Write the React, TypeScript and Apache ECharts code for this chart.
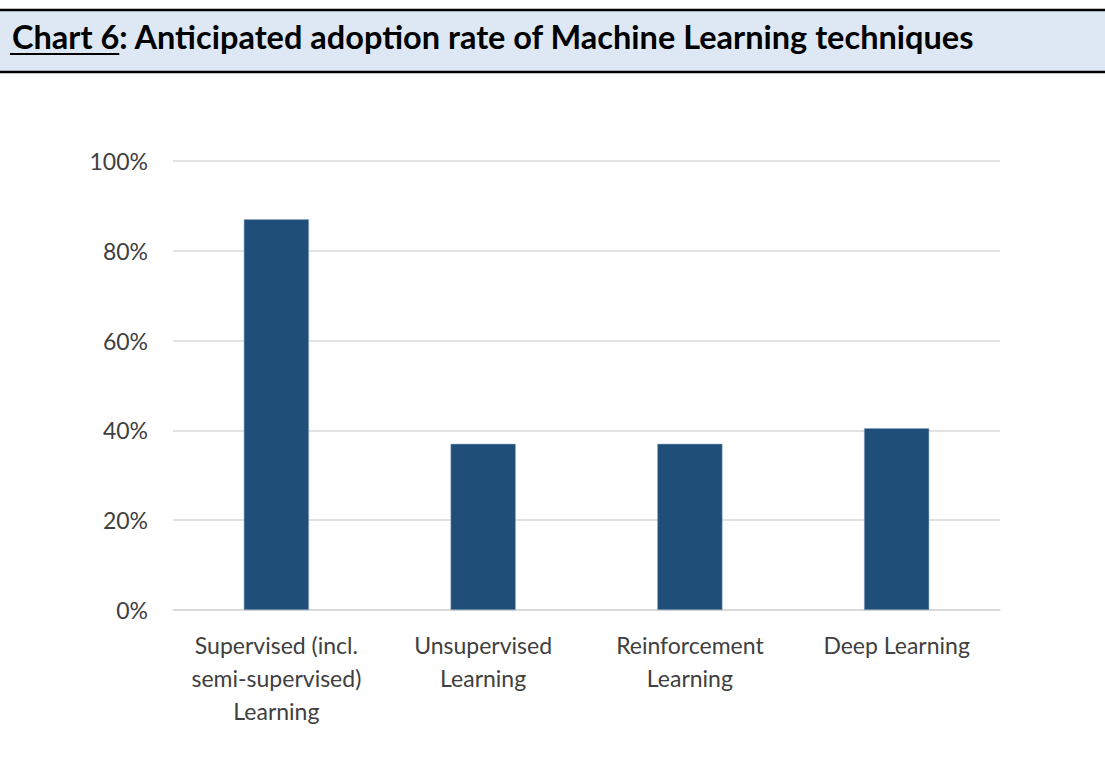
import React, { useEffect, useRef } from "react";
import * as echarts from "echarts";

const categories = [
  "Supervised (incl.\nsemi-supervised)\nLearning",
  "Unsupervised\nLearning",
  "Reinforcement\nLearning",
  "Deep Learning",
];
const adoptionRate = [87, 37, 37, 40.5];
const yTicks = { min: 0, max: 100, interval: 20 };
const titleLead = "Chart 6";
const titleRest = ": Anticipated adoption rate of Machine Learning techniques";

const FONT = "Lato, 'Open Sans', sans-serif";
const TITLE_SIZE = 32.5;

function measure(text: string, font: string): number {
  const c = document.createElement("canvas");
  const ctx = c.getContext("2d");
  if (!ctx) return text.length * 12;
  ctx.font = font;
  return ctx.measureText(text).width;
}

export default function App() {
  const ref = useRef<HTMLDivElement>(null);
  useEffect(() => {
    if (!ref.current) return;
    const chart = echarts.init(ref.current, undefined, { renderer: "svg" });
    const leadW = measure(titleLead, `bold ${TITLE_SIZE}px Lato`);
    const titleX = 12;
    const titleY = 36;
    chart.setOption({
      animation: false,
      backgroundColor: "#ffffff",
      grid: { left: 173, right: 105, top: 161, bottom: 163, containLabel: false },
      xAxis: {
        type: "category",
        data: categories,
        axisLine: { show: true, lineStyle: { color: "#d9d9d9", width: 1.5 } },
        axisTick: { show: false },
        axisLabel: {
          color: "#404040",
          fontFamily: FONT,
          fontSize: 23,
          lineHeight: 33,
          margin: 18,
          interval: 0,
        },
      },
      yAxis: {
        type: "value",
        min: yTicks.min,
        max: yTicks.max,
        interval: yTicks.interval,
        axisLine: { show: false },
        axisTick: { show: false },
        splitLine: { lineStyle: { color: "#d9d9d9", width: 1.5 } },
        axisLabel: {
          color: "#404040",
          fontFamily: FONT,
          fontSize: 23,
          margin: 25,
          formatter: (v: number) => `${v}%`,
        },
      },
      series: [
        {
          type: "bar",
          data: adoptionRate,
          barWidth: "31.5%",
          itemStyle: { color: "#1f4e79", borderColor: "#8fa9c4", borderWidth: 0.5 },
        },
      ],
      graphic: [
        {
          type: "rect",
          shape: { x: 0, y: 10, width: 1105, height: 62 },
          style: { fill: "#dde8f4" },
          silent: true,
        },
        {
          type: "line",
          shape: { x1: 0, y1: 10, x2: 1105, y2: 10 },
          style: { stroke: "#000000", lineWidth: 2.5 },
        },
        {
          type: "line",
          shape: { x1: 0, y1: 72, x2: 1105, y2: 72 },
          style: { stroke: "#000000", lineWidth: 2.5 },
        },
        {
          type: "text",
          x: titleX,
          y: titleY,
          style: {
            text: titleLead,
            fontFamily: FONT,
            fontWeight: "bold",
            fontSize: TITLE_SIZE,
            fill: "#000000",
            verticalAlign: "middle",
          },
        },
        {
          type: "line",
          shape: { x1: titleX - 2, y1: 54, x2: titleX + leadW, y2: 54 },
          style: { stroke: "#000000", lineWidth: 2.2 },
        },
        {
          type: "text",
          x: titleX + leadW,
          y: titleY,
          style: {
            text: titleRest,
            fontFamily: FONT,
            fontWeight: "bold",
            fontSize: TITLE_SIZE,
            fill: "#000000",
            verticalAlign: "middle",
          },
        },
      ],
    });
    return () => chart.dispose();
  }, []);
  return (
    <div
      ref={ref}
      style={{ position: "fixed", left: 0, top: 0, width: 1105, height: 773 }}
    />
  );
}
